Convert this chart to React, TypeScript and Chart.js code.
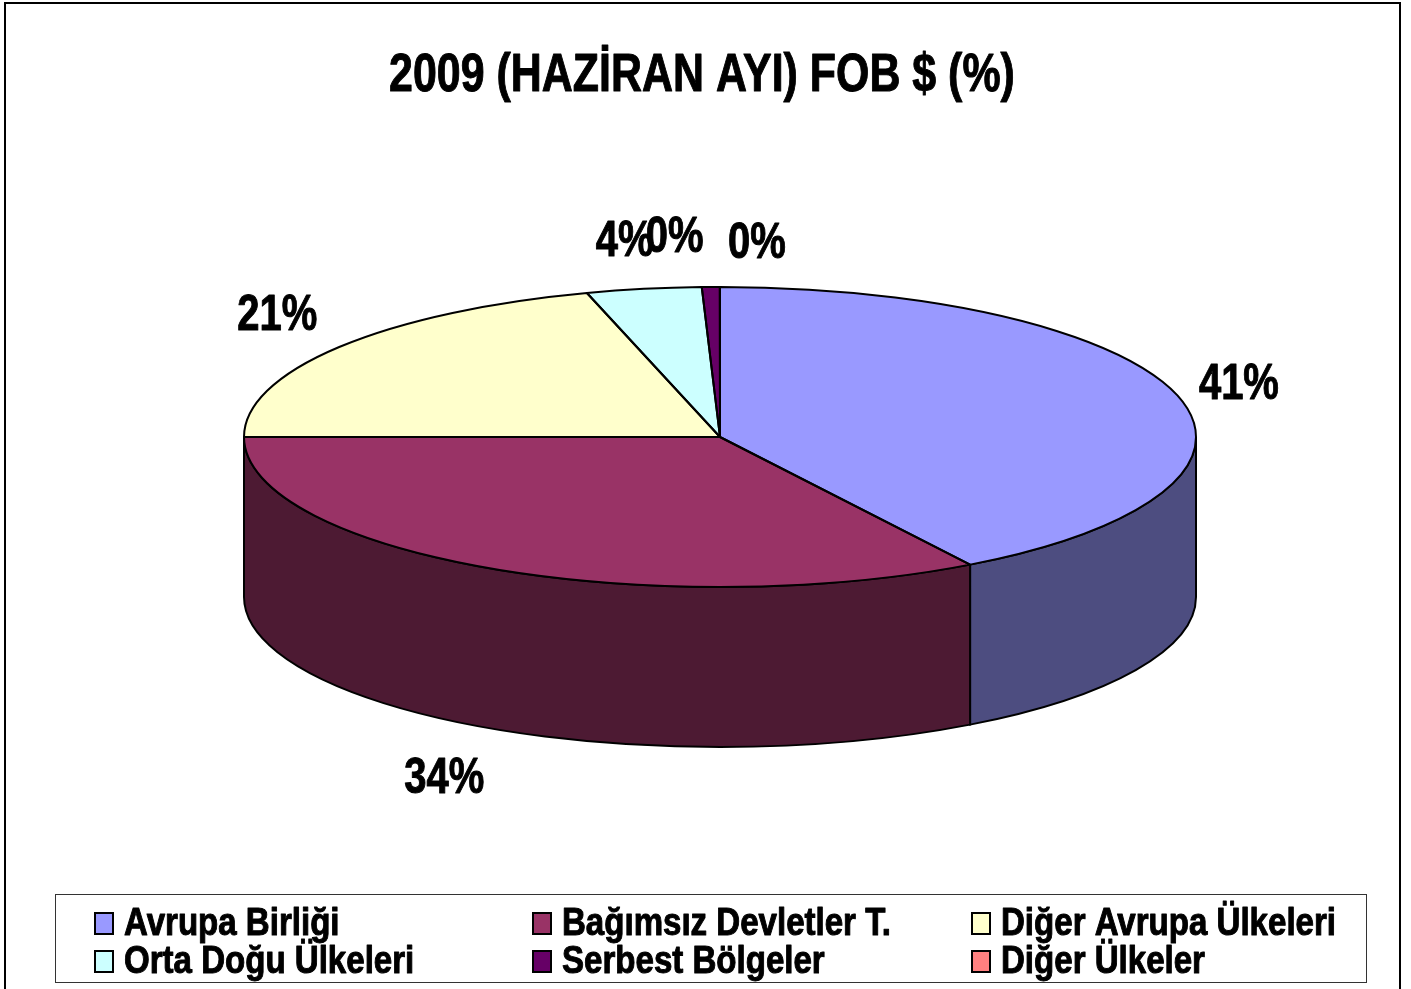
import React, { useEffect, useRef } from "react";
import { Chart, registerables } from "chart.js";

Chart.register(...registerables);

const titleText = "2009 (HAZİRAN AYI) FOB $ (%)";
const categories = ["Avrupa Birliği", "Bağımsız Devletler T.", "Diğer Avrupa Ülkeleri", "Orta Doğu Ülkeleri", "Serbest Bölgeler", "Diğer Ülkeler"];
const shares = [41.2, 33.8, 20.5, 3.9, 0.6, 0.01];
const shareLabels = ["41%", "34%", "21%", "4%", "0%", "0%"];
const topColors = ["#9999FF", "#993366", "#FFFFCC", "#CCFFFF", "#660066", "#FF8080"];
const wallColors = ["#4D4D80", "#4D1A33", "#808066", "#668080", "#330033", "#804040"];
// label offset from the rim point at the slice's mid angle
const labelOffsets = [[61, -11], [-44, 211], [-62, -31], [-19, -47], [-36, -49], [37, -43]];
const legendOrder = [0, 1, 2, 3, 4, 5];
const legendColumns = [94, 532, 971];
const legendRows = [935, 973];

const FONT = '"Liberation Sans", Arial, sans-serif';
const TILT = 150 / 476;
const DEPTH = 160;

function squeezedText(ctx: CanvasRenderingContext2D, text: string, x: number, y: number, size: number, sx: number, align: CanvasTextAlign = "left", baseline: CanvasTextBaseline = "alphabetic") {
  ctx.save();
  ctx.font = `bold ${size}px ${FONT}`;
  ctx.fillStyle = "#000";
  ctx.strokeStyle = "#000";
  ctx.lineWidth = 1;
  ctx.lineJoin = "round";
  ctx.textAlign = align;
  ctx.textBaseline = baseline;
  ctx.translate(x, y);
  ctx.scale(sx, 1);
  ctx.fillText(text, 0, 0);
  ctx.strokeText(text, 0, 0);
  ctx.restore();
}

const pie3d = {
  id: "pie3d",
  beforeDraw(chart: any) {
    const ctx = chart.ctx;
    ctx.save();
    ctx.fillStyle = "#fff";
    ctx.fillRect(0, 0, chart.width, chart.height);
    ctx.strokeStyle = "#000";
    ctx.lineWidth = 2;
    ctx.beginPath();
    ctx.moveTo(5, 989);
    ctx.lineTo(5, 3);
    ctx.lineTo(1400, 3);
    ctx.lineTo(1400, 989);
    ctx.stroke();
    ctx.restore();
  },
  beforeDatasetsDraw(chart: any) {
    const ctx = chart.ctx;
    const arcs = chart.getDatasetMeta(0).data;
    ctx.save();
    ctx.strokeStyle = "#000";
    ctx.lineWidth = 2;
    arcs.forEach((el: any, i: number) => {
      const a = Math.max(el.startAngle, 0);
      const b = Math.min(el.endAngle, Math.PI);
      if (b <= a) return;
      const rx = el.outerRadius;
      const ry = rx * TILT;
      ctx.beginPath();
      ctx.ellipse(el.x, el.y, rx, ry, 0, a, b);
      ctx.lineTo(el.x + rx * Math.cos(b), el.y + ry * Math.sin(b) + DEPTH);
      ctx.ellipse(el.x, el.y + DEPTH, rx, ry, 0, b, a, true);
      ctx.closePath();
      ctx.fillStyle = wallColors[i];
      ctx.fill();
      ctx.stroke();
    });
    ctx.restore();
    const first = arcs[0];
    ctx.save();
    ctx.translate(first.x, first.y);
    ctx.scale(1, TILT);
    ctx.translate(-first.x, -first.y);
  },
  afterDatasetsDraw(chart: any) {
    const ctx = chart.ctx;
    ctx.restore();
    const arcs = chart.getDatasetMeta(0).data;
    ctx.save();
    ctx.strokeStyle = "#000";
    ctx.lineWidth = 2;
    ctx.lineJoin = "round";
    arcs.forEach((el: any, i: number) => {
      const rx = el.outerRadius;
      const ry = rx * TILT;
      if (shares[i] >= 0.1) {
        ctx.beginPath();
        ctx.moveTo(el.x, el.y);
        ctx.ellipse(el.x, el.y, rx, ry, 0, el.startAngle, el.endAngle);
        ctx.closePath();
        ctx.stroke();
      }
      const mid = (el.startAngle + el.endAngle) / 2;
      const px = el.x + rx * Math.cos(mid) + labelOffsets[i][0];
      const py = el.y + ry * Math.sin(mid) + labelOffsets[i][1];
      squeezedText(ctx, shareLabels[i], px, py, 50, 0.8, "center", "middle");
    });
    ctx.restore();

    squeezedText(ctx, titleText, 702, 91, 53, 0.81, "center");

    ctx.save();
    ctx.strokeStyle = "#333";
    ctx.lineWidth = 1;
    ctx.strokeRect(55.5, 894.5, 1311, 88);
    legendOrder.forEach((idx, n) => {
      const x = legendColumns[n % 3];
      const y = legendRows[Math.floor(n / 3)];
      ctx.fillStyle = topColors[idx];
      ctx.strokeStyle = "#000";
      ctx.lineWidth = 2;
      ctx.fillRect(x + 1, y - 22, 18, 21);
      ctx.strokeRect(x + 1, y - 22, 18, 21);
      squeezedText(ctx, categories[idx], x + 30, y, 38, 0.87);
    });
    ctx.restore();
  },
};

export default function App() {
  const ref = useRef<HTMLCanvasElement>(null);
  useEffect(() => {
    document.body.style.margin = "0";
    const chart = new Chart(ref.current!, {
      type: "pie",
      data: {
        labels: categories,
        datasets: [{ data: shares, backgroundColor: topColors, borderWidth: 0, clip: false } as any],
      },
      options: {
        responsive: false,
        animation: false,
        radius: 476,
        layout: { padding: { left: 29, right: 0, top: 0, bottom: 115 } },
        plugins: { legend: { display: false }, title: { display: false }, tooltip: { enabled: false } },
      } as any,
      plugins: [pie3d],
    });
    return () => chart.destroy();
  }, []);
  return <canvas ref={ref} width={1411} height={989} style={{ position: "absolute", left: 0, top: 0, display: "block" }} />;
}
